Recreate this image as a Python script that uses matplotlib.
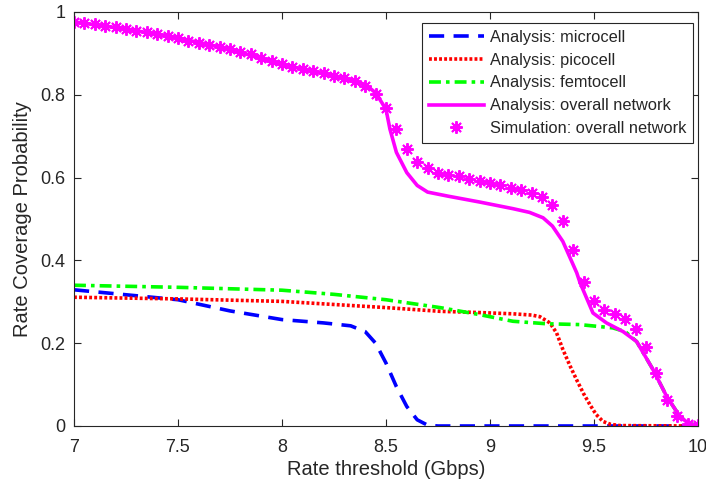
import matplotlib
matplotlib.use("Agg")
import matplotlib.pyplot as plt
import numpy as np

plt.rcParams["font.family"] = ["Liberation Sans", "DejaVu Sans"]

# analysis curves
x_micro = [7.0, 7.25, 7.5, 7.75, 8.0, 8.2, 8.33, 8.4, 8.45, 8.5, 8.55, 8.6, 8.65, 8.7, 8.75, 10.0]
y_micro = [0.329, 0.317, 0.305, 0.278, 0.257, 0.249, 0.242, 0.228, 0.200, 0.152, 0.095, 0.047, 0.015, 0.002, 0.0, 0.0]

x_pico = [7.0, 7.5, 8.0, 8.5, 8.76, 8.95, 9.11, 9.2, 9.24, 9.288, 9.32, 9.351, 9.385, 9.417,
          9.45, 9.481, 9.51, 9.543, 9.58, 9.625, 10.0]
y_pico = [0.311, 0.307, 0.301, 0.286, 0.277, 0.274, 0.271, 0.268, 0.264, 0.249, 0.225, 0.184, 0.145, 0.111,
          0.078, 0.051, 0.028, 0.011, 0.004, 0.001, 0.0]

x_femto = [7.0, 7.5, 8.0, 8.25, 8.5, 8.76, 8.95, 9.11, 9.27, 9.43, 9.59, 9.65, 9.705, 9.784,
           9.85, 9.913, 9.95, 10.0]
y_femto = [0.340, 0.335, 0.328, 0.318, 0.305, 0.286, 0.269, 0.253, 0.247, 0.245, 0.237, 0.228, 0.204, 0.136,
           0.071, 0.023, 0.008, 0.0]

x_all = [7.0, 7.25, 7.5, 7.75, 8.0, 8.25, 8.4, 8.45, 8.5, 8.519, 8.55, 8.6, 8.65, 8.7, 8.8, 8.95,
         9.11, 9.19, 9.255, 9.30, 9.35, 9.417, 9.433, 9.495, 9.56, 9.64, 9.705, 9.784, 9.85,
         9.913, 9.95, 10.0]
y_all = [0.976, 0.959, 0.937, 0.910, 0.873, 0.846, 0.825, 0.805, 0.765, 0.717, 0.661, 0.612, 0.581, 0.565,
         0.555, 0.541, 0.525, 0.516, 0.503, 0.483, 0.446, 0.370, 0.346, 0.273, 0.249, 0.228, 0.204,
         0.136, 0.071, 0.023, 0.008, 0.0]

# simulation, every 0.05 Gbps
x_sim = np.linspace(7.0, 10.0, 61)
y_sim = [0.976, 0.973, 0.970, 0.967, 0.964, 0.959, 0.955, 0.951, 0.946, 0.941,
         0.936, 0.930, 0.925, 0.920, 0.915, 0.910, 0.904, 0.898, 0.890, 0.882,
         0.874, 0.866, 0.862, 0.858, 0.852, 0.846, 0.840, 0.834, 0.822, 0.801,
         0.768, 0.717, 0.670, 0.637, 0.624, 0.612, 0.607, 0.603, 0.596, 0.591,
         0.586, 0.581, 0.576, 0.569, 0.564, 0.554, 0.534, 0.494, 0.426, 0.347,
         0.301, 0.281, 0.271, 0.259, 0.235, 0.191, 0.129, 0.063, 0.023, 0.005,
         0.002]

txt = "#262626"

fig = plt.figure(figsize=(7.06, 4.87), dpi=100)
ax = fig.add_axes([74 / 706, 61 / 487, 624 / 706, 414 / 487])

lw = 2.6
ax.plot(x_micro, y_micro, color="#0000ff", lw=lw, linestyle=(0, (4.2, 2.6)), label="Analysis: microcell")
ax.plot(x_pico, y_pico, color="#ff0000", lw=lw, linestyle=(0, (0.8, 0.6)), label="Analysis: picocell")
ax.plot(x_femto, y_femto, color="#00ff00", lw=lw, linestyle=(0, (3.3, 1.4, 1.0, 1.4)), label="Analysis: femtocell")
ax.plot(x_all, y_all, color="#ff00ff", lw=lw, label="Analysis: overall network")
ax.plot(x_sim, y_sim, linestyle="none", marker=(8, 2, 0), markersize=9, markeredgewidth=1.4,
        color="#ff00ff", label="Simulation: overall network")

ax.set_xlim(7, 10)
ax.set_ylim(0, 1)
ax.set_xticks([7, 7.5, 8, 8.5, 9, 9.5, 10])
ax.set_xticklabels(["7", "7.5", "8", "8.5", "9", "9.5", "10"])
ax.set_yticks([0, 0.2, 0.4, 0.6, 0.8, 1])
ax.set_yticklabels(["0", "0.2", "0.4", "0.6", "0.8", "1"])
ax.tick_params(direction="in", length=5, width=0.8, colors=txt, labelsize=13,
               top=True, right=True)
ax.tick_params(axis="x", pad=9)
ax.tick_params(axis="y", pad=6)
for s in ax.spines.values():
    s.set_color(txt)
    s.set_linewidth(0.8)

ax.set_xlabel("Rate threshold (Gbps)", fontsize=14.5, color=txt, labelpad=3)
ax.set_ylabel("Rate Coverage Probability", fontsize=14.5, color=txt, labelpad=6)

leg = ax.legend(loc="upper right", bbox_to_anchor=(0.992, 0.973), borderaxespad=0,
                fontsize=11.8, handlelength=3.35, handletextpad=0.4, fancybox=False,
                framealpha=1, edgecolor=txt, labelspacing=0.48, borderpad=0.4)
leg.get_frame().set_linewidth(0.8)
for t in leg.get_texts():
    t.set_color(txt)

fig.savefig("out.png", dpi=100)
